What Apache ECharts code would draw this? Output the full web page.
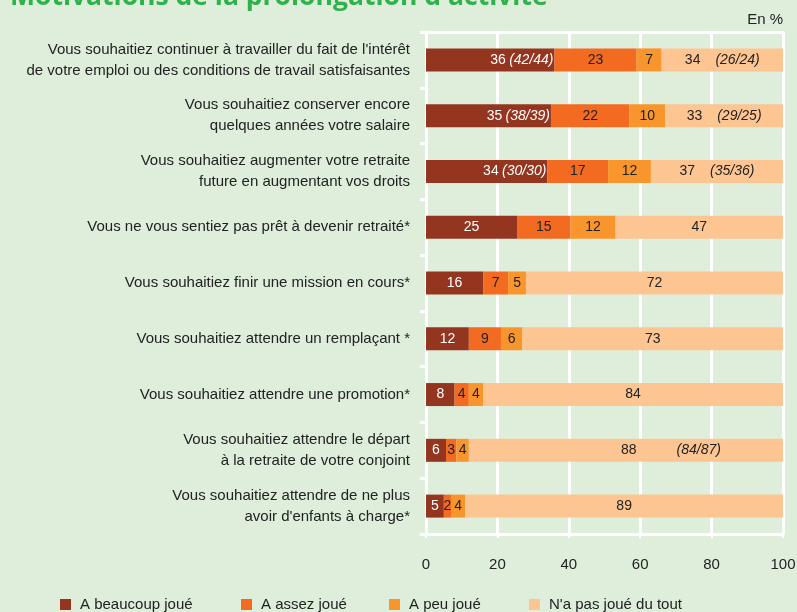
<!DOCTYPE html>
<html>
<head>
<meta charset="utf-8">
<script src="https://cdn.jsdelivr.net/npm/echarts@6/dist/echarts.min.js"></script>
<style>
    html, body { margin: 0; padding: 0; background: #deeedb; }
    #chart { width: 797px; height: 612px; }
</style>
</head>
<body>
<div id="chart"></div>
<script>
    // categories (top to bottom)
    const categories = [
        "Vous souhaitiez continuer à travailler du fait de l'intérêt\nde votre emploi ou des conditions de travail satisfaisantes",
        "Vous souhaitiez conserver encore\nquelques années votre salaire",
        "Vous souhaitiez augmenter votre retraite\nfuture en augmentant vos droits",
        "Vous ne vous sentiez pas prêt à devenir retraité*",
        "Vous souhaitiez finir une mission en cours*",
        "Vous souhaitiez attendre un remplaçant *",
        "Vous souhaitiez attendre une promotion*",
        "Vous souhaitiez attendre le départ\nà la retraite de votre conjoint",
        "Vous souhaitiez attendre de ne plus\navoir d'enfants à charge*"
    ];
    const seriesNames = ['A beaucoup joué', 'A assez joué', 'A peu joué', "N'a pas joué du tout"];

    // bar lengths (%)
    const beaucoup = [36, 35, 34, 25.5, 16, 12, 8, 5.6, 5];
    const assez    = [23, 22, 17, 15, 7, 9, 4, 2.9, 2];
    const peu      = [7, 10, 12, 12.6, 5, 6, 4, 3.5, 4];
    const pasDuTout = [34, 33, 37, 46.9, 72, 73, 84, 88, 89];

    // printed labels
    const beaucoupLbl = ['36', '35', '34', '25', '16', '12', '8', '6', '5'];
    const assezLbl    = ['23', '22', '17', '15', '7', '9', '4', '3', '2'];
    const peuLbl      = ['7', '10', '12', '12', '5', '6', '4', '4', '4'];
    const pasLbl      = ['34', '33', '37', '47', '72', '73', '84', '88', '89'];
    // figures in brackets
    const beaucoupNote = ['(42/44)', '(38/39)', '(30/30)', '', '', '', '', '', ''];
    const pasNote      = ['(26/24)', '(29/25)', '(35/36)', '', '', '', '', '(84/87)', ''];

    const xTicks = [0, 20, 40, 60, 80, 100];

    const colors = ['#94361f', '#f26b21', '#f8962d', '#fdc592'];
    const font = "'Liberation Sans', Arial, sans-serif";
    const legendLeft = [55, 236, 384, 524];

    let myChart = echarts.init(document.getElementById('chart'));

    function numStyle(color) {
        return { color: color, fontFamily: font, fontSize: 14 };
    }
    function noteStyle(color) {
        return { color: color, fontFamily: font, fontSize: 14, fontStyle: 'italic' };
    }

    // dark series: note goes on the right edge of the segment
    const beaucoupData = beaucoup.map(function (v, i) {
        let item = { value: v };
        if (beaucoupNote[i]) {
            item.label = { position: 'insideRight', distance: 1 };
        }
        return item;
    });

    // one legend per entry so each sits where it does in the original
    const legends = seriesNames.map(function (name, i) {
        return {
            data: [name],
            left: legendLeft[i],
            top: 592,
            itemWidth: 11,
            itemHeight: 11,
            icon: 'rect',
            selectedMode: false,
            textStyle: { fontFamily: font, fontSize: 15, color: '#222', padding: [0, 0, 0, 4] }
        };
    });

    let option = {
        backgroundColor: '#deeedb',
        color: colors,
        animation: false,
        grid: { left: 426, right: 14, top: 32, bottom: 78, containLabel: false, outerBoundsMode: 'none' },
        legend: legends,
        graphic: [
            {
                type: 'text',
                left: 10,
                top: -16,
                style: {
                    text: "Motivations de la prolongation d'activité",
                    fill: '#2db34a',
                    font: "bold 26.5px 'Open Sans', sans-serif"
                }
            },
            {
                type: 'text',
                right: 14,
                top: 12,
                style: {
                    text: 'En %',
                    fill: '#222',
                    font: "15px " + font
                }
            }
        ],
        xAxis: [
            {
                type: 'value',
                min: xTicks[0],
                max: xTicks[xTicks.length - 1],
                interval: 20,
                axisLine: { show: true, lineStyle: { color: '#fff', width: 3 } },
                axisTick: { show: true, length: 4, lineStyle: { color: '#fff', width: 2 } },
                axisLabel: { margin: 23, fontFamily: font, fontSize: 15, color: '#222' },
                splitLine: { show: true, lineStyle: { color: '#fff', width: 3 } }
            },
            {
                type: 'value',
                position: 'top',
                min: 0,
                max: 100,
                axisLine: { show: true, lineStyle: { color: '#fff', width: 3 } },
                axisTick: { show: false },
                axisLabel: { show: false },
                splitLine: { show: false }
            }
        ],
        yAxis: {
            type: 'category',
            inverse: true,
            data: categories,
            axisLine: { show: true, lineStyle: { color: '#fff', width: 3 } },
            axisTick: { show: true, length: 6, lineStyle: { color: '#fff', width: 3 } },
            axisLabel: {
                margin: 16,
                fontFamily: font,
                fontSize: 15,
                lineHeight: 21,
                color: '#222',
                align: 'right'
            }
        },
        series: [
            {
                name: seriesNames[0],
                type: 'bar',
                stack: 'total',
                barWidth: 23,
                data: beaucoupData,
                label: {
                    show: true,
                    position: 'inside',
                    formatter: function (p) {
                        let i = p.dataIndex;
                        if (beaucoupNote[i]) {
                            return '{n|' + beaucoupLbl[i] + '} {i|' + beaucoupNote[i] + '}';
                        }
                        return '{n|' + beaucoupLbl[i] + '}';
                    },
                    rich: { n: numStyle('#fff'), i: noteStyle('#fff') }
                }
            },
            {
                name: seriesNames[1],
                type: 'bar',
                stack: 'total',
                barWidth: 23,
                data: assez,
                label: {
                    show: true,
                    position: 'inside',
                    formatter: function (p) { return '{n|' + assezLbl[p.dataIndex] + '}'; },
                    rich: { n: numStyle('#222') }
                }
            },
            {
                name: seriesNames[2],
                type: 'bar',
                stack: 'total',
                barWidth: 23,
                data: peu,
                label: {
                    show: true,
                    position: 'inside',
                    formatter: function (p) { return '{n|' + peuLbl[p.dataIndex] + '}'; },
                    rich: { n: numStyle('#222') }
                }
            },
            {
                name: seriesNames[3],
                type: 'bar',
                stack: 'total',
                barWidth: 23,
                data: pasDuTout,
                label: {
                    show: true,
                    position: 'inside',
                    formatter: function (p) {
                        let i = p.dataIndex;
                        if (!pasNote[i]) return '{n|' + pasLbl[i] + '}';
                        if (i === 7) {
                            // number stays centred, note set off to the right
                            return '{pad|}{n|' + pasLbl[i] + '}{gap|}{i|' + pasNote[i] + '}';
                        }
                        return '{n|' + pasLbl[i] + '}{sgap|}{i|' + pasNote[i] + '}';
                    },
                    rich: {
                        n: numStyle('#222'),
                        i: noteStyle('#222'),
                        pad: { width: 90 },
                        gap: { width: 40 },
                        sgap: { width: 15 }
                    }
                }
            }
        ]
    };
    myChart.setOption(option);
</script>
</body>
</html>
